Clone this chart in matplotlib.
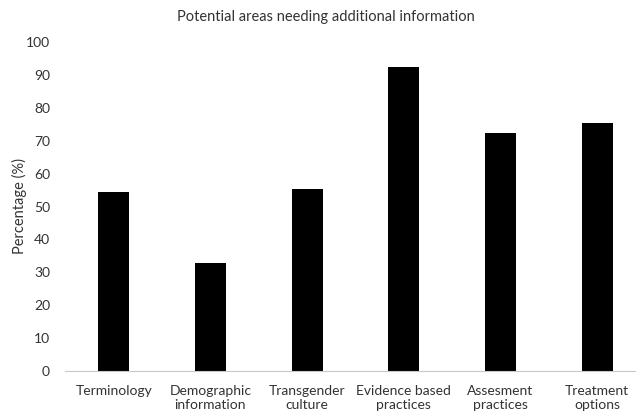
import matplotlib.pyplot as plt

categories = ["Terminology", "Demographic\ninformation", "Transgender\nculture",
              "Evidence based\npractices", "Assesment\npractices", "Treatment\noptions"]
percentages = [54.5, 32.8, 55.3, 92.3, 72.2, 75.3]
y_ticks = list(range(0, 101, 10))

plt.rcParams['font.family'] = ['Lato', 'DejaVu Sans']
text_color = '#333333'

fig = plt.figure(figsize=(6.36, 4.13), dpi=100)
ax = fig.add_axes([0.1028, 0.1017, 0.912, 0.7966])

ax.bar(range(len(categories)), percentages, width=0.32, color='black')

ax.set_xlim(-0.5, len(categories) - 0.5)
ax.set_ylim(0, 100)
ax.set_yticks(y_ticks)
ax.set_xticks(range(len(categories)))
ax.set_xticklabels(categories, fontsize=10, color=text_color, linespacing=1.25)
ax.tick_params(axis='y', length=0, pad=11, labelsize=10, labelcolor=text_color)
ax.tick_params(axis='x', length=0, pad=10)

for side in ['top', 'right', 'left']:
    ax.spines[side].set_visible(False)
ax.spines['bottom'].set_color('#c8c8c8')

ax.set_ylabel("Percentage (%)", fontsize=10.5, color=text_color)
ax.yaxis.set_label_coords(-0.067, 0.5)
fig.text(0.513, 0.958, "Potential areas needing additional information",
         ha='center', va='center', fontsize=10.5, color=text_color)

fig.savefig("out.png", dpi=100)
